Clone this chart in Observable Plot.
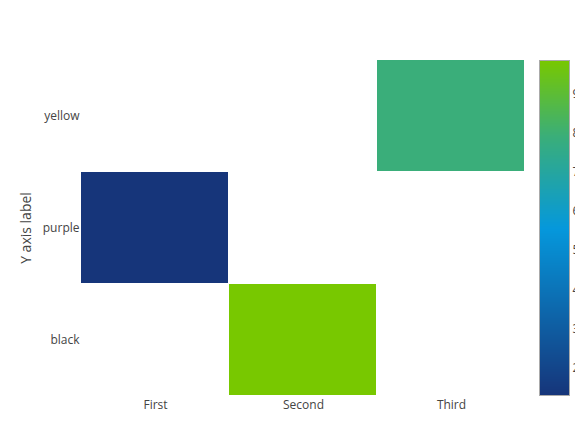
<!DOCTYPE html>
<html>
<head>
<meta charset="utf-8">
<script src="https://cdn.jsdelivr.net/npm/d3@7"></script>
<script src="https://cdn.jsdelivr.net/npm/@observablehq/plot@0.6"></script>
<style>
  html, body { margin: 0; padding: 0; background: #fff; }
  #wrap { position: relative; width: 575px; height: 431px; overflow: hidden; background: #fff; }
  #cb { position: absolute; left: 538px; top: 59px; }
</style>
</head>
<body>
<div id="wrap"><div id="main"></div><div id="cb"></div></div>
<script>
const xCats = ["First", "Second", "Third"];
const yCats = ["yellow", "purple", "black"];
const cellX = ["First", "Second", "Third"];
const cellY = ["purple", "black", "yellow"];
const cellZ = [1.3, 9.85, 7.9];
const zMin = 1.3, zMax = 9.85;
const colorStops = [1.3, 5.55, 7.9, 9.85];
const colorRange = ["#16357A", "#0598DC", "#3AAE7A", "#78C800"];
const cbTicks = [2, 3, 4, 5, 6, 7, 8, 9];
const yTitle = "Y axis label";

const cells = cellX.map((x, i) => ({x, y: cellY[i], z: cellZ[i]}));
const colorScale = {type: "linear", domain: colorStops, range: colorRange, interpolate: "rgb"};
const font = {fontFamily: "'Open Sans', sans-serif", fontSize: "12px", color: "#444", background: "transparent"};

const main = Plot.plot({
  width: 575, height: 431,
  marginLeft: 80, marginRight: 50, marginTop: 60, marginBottom: 35,
  style: font,
  x: {domain: xCats, padding: 0, label: null, tickSize: 0, tickPadding: 4},
  y: {domain: yCats, padding: 0, label: null, tickSize: 0, tickPadding: 1},
  color: colorScale,
  marks: [
    Plot.cell(cells, {x: "x", y: "y", fill: "z", insetRight: 1, insetBottom: 1})
  ]
});
d3.select(main).selectAll("text").attr("fill", "#444");
d3.select(main).append("text")
  .attr("transform", "translate(25,228) rotate(-90)")
  .attr("text-anchor", "middle")
  .attr("dominant-baseline", "central")
  .attr("fill", "#444")
  .style("font-size", "14px")
  .text(yTitle);
document.getElementById("main").appendChild(main);

const cb = Plot.plot({
  width: 37, height: 337,
  marginLeft: 1, marginRight: 6, marginTop: 1, marginBottom: 1,
  style: font,
  x: {domain: [0, 1], axis: null},
  y: {domain: [zMin, zMax], axis: "right", ticks: cbTicks, tickSize: 0, tickPadding: 3, label: null, tickFormat: d3.format("d")},
  color: colorScale,
  marks: [
    Plot.raster({fill: (x, y) => y, x1: 0, x2: 1, y1: zMin, y2: zMax, pixelSize: 1}),
    Plot.frame({stroke: "#aaa"})
  ]
});
d3.select(cb).selectAll("text").attr("fill", "#444");
document.getElementById("cb").appendChild(cb);
</script>
</body>
</html>
